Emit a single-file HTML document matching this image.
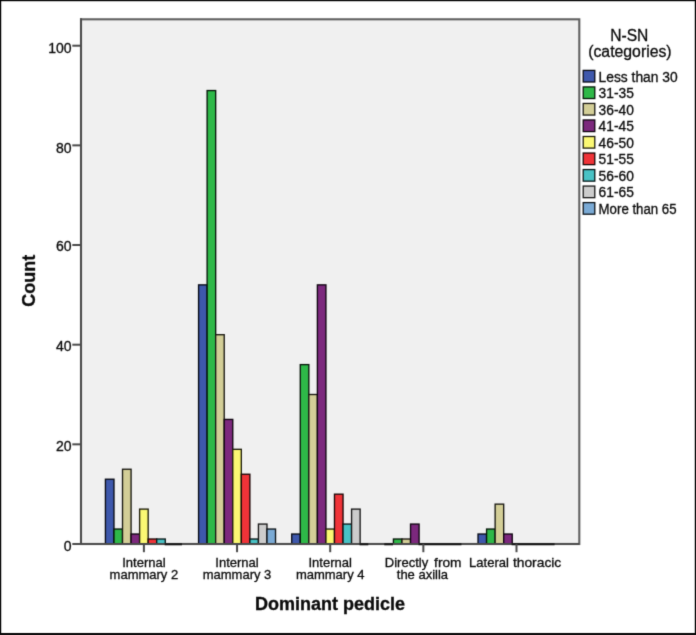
<!DOCTYPE html>
<html><head><meta charset="utf-8"><style>
html,body{margin:0;padding:0;background:#fff;}
body{width:696px;height:635px;overflow:hidden;}
svg{display:block;font-family:"Liberation Sans", sans-serif;fill:#0a0a0a;}
text{stroke:#0a0a0a;stroke-width:0.3px;}
</style></head><body>
<svg width="696" height="635" viewBox="0 0 696 635">
<defs><filter id="bl" x="0" y="0" width="1" height="1" color-interpolation-filters="sRGB"><feConvolveMatrix order="3" kernelMatrix="1 6 1 6 36 6 1 6 1" divisor="64" edgeMode="duplicate" preserveAlpha="true"/></filter></defs>
<g filter="url(#bl)">
<rect x="0" y="0" width="696" height="635" fill="#fff"/>
<rect x="81" y="19.3" width="498.3" height="524.7" fill="#F0F0F0" stroke="#606060" stroke-width="2.1"/>
<rect x="105.42" y="479.22" width="8.55" height="64.78" fill="#3E58AC" stroke="#070a14" stroke-width="1.35"/>
<rect x="113.97" y="529.05" width="8.55" height="14.95" fill="#2EB848" stroke="#051608" stroke-width="1.35"/>
<rect x="122.53" y="469.25" width="8.55" height="74.74" fill="#D3CE97" stroke="#191812" stroke-width="1.35"/>
<rect x="131.07" y="534.03" width="8.55" height="9.97" fill="#7C287D" stroke="#0e040f" stroke-width="1.35"/>
<rect x="139.62" y="509.12" width="8.55" height="34.88" fill="#FBF873" stroke="#1e1d0d" stroke-width="1.35"/>
<rect x="148.18" y="539.02" width="8.55" height="4.98" fill="#EF3338" stroke="#1c0606" stroke-width="1.35"/>
<rect x="156.72" y="539.02" width="8.55" height="4.98" fill="#48C2C5" stroke="#081717" stroke-width="1.35"/>
<rect x="198.57" y="284.88" width="8.55" height="259.12" fill="#3E58AC" stroke="#070a14" stroke-width="1.35"/>
<rect x="207.12" y="90.55" width="8.55" height="453.45" fill="#2EB848" stroke="#051608" stroke-width="1.35"/>
<rect x="215.67" y="334.71" width="8.55" height="209.29" fill="#D3CE97" stroke="#191812" stroke-width="1.35"/>
<rect x="224.22" y="419.43" width="8.55" height="124.57" fill="#7C287D" stroke="#0e040f" stroke-width="1.35"/>
<rect x="232.77" y="449.32" width="8.55" height="94.68" fill="#FBF873" stroke="#1e1d0d" stroke-width="1.35"/>
<rect x="241.32" y="474.24" width="8.55" height="69.76" fill="#EF3338" stroke="#1c0606" stroke-width="1.35"/>
<rect x="249.88" y="539.02" width="8.55" height="4.98" fill="#48C2C5" stroke="#081717" stroke-width="1.35"/>
<rect x="258.43" y="524.07" width="8.55" height="19.93" fill="#CCCCCC" stroke="#181818" stroke-width="1.35"/>
<rect x="266.98" y="529.05" width="8.55" height="14.95" fill="#7AAAD5" stroke="#0e1419" stroke-width="1.35"/>
<rect x="291.73" y="534.03" width="8.55" height="9.97" fill="#3E58AC" stroke="#070a14" stroke-width="1.35"/>
<rect x="300.28" y="364.61" width="8.55" height="179.39" fill="#2EB848" stroke="#051608" stroke-width="1.35"/>
<rect x="308.83" y="394.51" width="8.55" height="149.49" fill="#D3CE97" stroke="#191812" stroke-width="1.35"/>
<rect x="317.38" y="284.88" width="8.55" height="259.12" fill="#7C287D" stroke="#0e040f" stroke-width="1.35"/>
<rect x="325.93" y="529.05" width="8.55" height="14.95" fill="#FBF873" stroke="#1e1d0d" stroke-width="1.35"/>
<rect x="334.48" y="494.17" width="8.55" height="49.83" fill="#EF3338" stroke="#1c0606" stroke-width="1.35"/>
<rect x="343.03" y="524.07" width="8.55" height="19.93" fill="#48C2C5" stroke="#081717" stroke-width="1.35"/>
<rect x="351.58" y="509.12" width="8.55" height="34.88" fill="#CCCCCC" stroke="#181818" stroke-width="1.35"/>
<rect x="393.43" y="539.02" width="8.55" height="4.98" fill="#2EB848" stroke="#051608" stroke-width="1.35"/>
<rect x="401.98" y="539.02" width="8.55" height="4.98" fill="#D3CE97" stroke="#191812" stroke-width="1.35"/>
<rect x="410.53" y="524.07" width="8.55" height="19.93" fill="#7C287D" stroke="#0e040f" stroke-width="1.35"/>
<rect x="478.03" y="534.03" width="8.55" height="9.97" fill="#3E58AC" stroke="#070a14" stroke-width="1.35"/>
<rect x="486.58" y="529.05" width="8.55" height="14.95" fill="#2EB848" stroke="#051608" stroke-width="1.35"/>
<rect x="495.13" y="504.14" width="8.55" height="39.86" fill="#D3CE97" stroke="#191812" stroke-width="1.35"/>
<rect x="503.68" y="534.03" width="8.55" height="9.97" fill="#7C287D" stroke="#0e040f" stroke-width="1.35"/>
<line x1="81" y1="18.3" x2="81" y2="545" stroke="#4a4a4a" stroke-width="2"/>
<line x1="80" y1="544" x2="579.3" y2="544" stroke="#4a4a4a" stroke-width="2"/>
<line x1="164.68" y1="544.3" x2="181.97" y2="544.3" stroke="#111" stroke-width="2"/>
<line x1="359.52" y1="544.3" x2="368.28" y2="544.3" stroke="#111" stroke-width="2"/>
<line x1="384.28" y1="544.3" x2="393.03" y2="544.3" stroke="#111" stroke-width="2"/>
<line x1="418.48" y1="544.3" x2="461.43" y2="544.3" stroke="#111" stroke-width="2"/>
<line x1="511.62" y1="544.3" x2="554.58" y2="544.3" stroke="#111" stroke-width="2"/>
<line x1="72.3" y1="544" x2="81" y2="544" stroke="#4a4a4a" stroke-width="2"/>
<text x="71.6" y="550.95" text-anchor="end" font-size="14">0</text>
<line x1="72.3" y1="444.34" x2="81" y2="444.34" stroke="#4a4a4a" stroke-width="2"/>
<text x="71.6" y="451.2" text-anchor="end" font-size="14">20</text>
<line x1="72.3" y1="344.68" x2="81" y2="344.68" stroke="#4a4a4a" stroke-width="2"/>
<text x="71.6" y="351.3" text-anchor="end" font-size="14">40</text>
<line x1="72.3" y1="245.02" x2="81" y2="245.02" stroke="#4a4a4a" stroke-width="2"/>
<text x="71.6" y="251.3" text-anchor="end" font-size="14">60</text>
<line x1="72.3" y1="145.36" x2="81" y2="145.36" stroke="#4a4a4a" stroke-width="2"/>
<text x="71.6" y="152.65" text-anchor="end" font-size="14">80</text>
<line x1="72.3" y1="45.7" x2="81" y2="45.7" stroke="#4a4a4a" stroke-width="2"/>
<text x="71.6" y="52.7" text-anchor="end" font-size="14">100</text>
<line x1="143.9" y1="544" x2="143.9" y2="552.2" stroke="#4a4a4a" stroke-width="2"/>
<line x1="237.05" y1="544" x2="237.05" y2="552.2" stroke="#4a4a4a" stroke-width="2"/>
<line x1="330.2" y1="544" x2="330.2" y2="552.2" stroke="#4a4a4a" stroke-width="2"/>
<line x1="423.35" y1="544" x2="423.35" y2="552.2" stroke="#4a4a4a" stroke-width="2"/>
<line x1="516.5" y1="544" x2="516.5" y2="552.2" stroke="#4a4a4a" stroke-width="2"/>
<g font-size="13">
<text x="143.9" y="566.7" text-anchor="middle">Internal</text>
<text x="143.9" y="578.5" text-anchor="middle">mammary 2</text>
<text x="237.05" y="566.7" text-anchor="middle">Internal</text>
<text x="237.05" y="578.5" text-anchor="middle">mammary 3</text>
<text x="330.2" y="566.7" text-anchor="middle">Internal</text>
<text x="330.2" y="578.5" text-anchor="middle">mammary 4</text>
<text y="566.7"><tspan x="384.8">Directly</tspan><tspan x="434.1" textLength="27.4" lengthAdjust="spacingAndGlyphs">from</tspan></text>
<text x="422.45" y="578.5" text-anchor="middle">the axilla</text>
<text y="566.7"><tspan x="469.1">Lateral</tspan><tspan x="512.9" textLength="48.4" lengthAdjust="spacingAndGlyphs">thoracic</tspan></text>
</g>
<text x="330" y="609.6" text-anchor="middle" font-size="18" font-weight="bold">Dominant pedicle</text>
<text transform="translate(35,280.8) rotate(-90)" text-anchor="middle" font-size="18" font-weight="bold">Count</text>
<text x="629.3" y="41" text-anchor="middle" font-size="15.6">N-SN</text>
<text x="629.9" y="57.3" text-anchor="middle" font-size="15.8">(categories)</text>
<rect x="583.2" y="70.4" width="11.6" height="11.6" fill="#3E58AC" stroke="#070a14" stroke-width="1.3"/>
<text x="598.6" y="81.8" font-size="13.8">Less than 30</text>
<rect x="583.2" y="86.93" width="11.6" height="11.6" fill="#2EB848" stroke="#051608" stroke-width="1.3"/>
<text x="598.6" y="98.33" font-size="13.8">31-35</text>
<rect x="583.2" y="103.45" width="11.6" height="11.6" fill="#D3CE97" stroke="#191812" stroke-width="1.3"/>
<text x="598.6" y="114.85" font-size="13.8">36-40</text>
<rect x="583.2" y="119.97" width="11.6" height="11.6" fill="#7C287D" stroke="#0e040f" stroke-width="1.3"/>
<text x="598.6" y="131.38" font-size="13.8">41-45</text>
<rect x="583.2" y="136.5" width="11.6" height="11.6" fill="#FBF873" stroke="#1e1d0d" stroke-width="1.3"/>
<text x="598.6" y="147.9" font-size="13.8">46-50</text>
<rect x="583.2" y="153.03" width="11.6" height="11.6" fill="#EF3338" stroke="#1c0606" stroke-width="1.3"/>
<text x="598.6" y="164.43" font-size="13.8">51-55</text>
<rect x="583.2" y="169.55" width="11.6" height="11.6" fill="#48C2C5" stroke="#081717" stroke-width="1.3"/>
<text x="598.6" y="180.95" font-size="13.8">56-60</text>
<rect x="583.2" y="186.07" width="11.6" height="11.6" fill="#CCCCCC" stroke="#181818" stroke-width="1.3"/>
<text x="598.6" y="197.47" font-size="13.8">61-65</text>
<rect x="583.2" y="202.6" width="11.6" height="11.6" fill="#7AAAD5" stroke="#0e1419" stroke-width="1.3"/>
<text x="598.6" y="214" font-size="13.8" textLength="78" lengthAdjust="spacingAndGlyphs">More than 65</text>
<rect x="0.5" y="0.5" width="695" height="633.5" fill="none" stroke="#000" stroke-width="1.4"/>
<line x1="0" y1="633.8" x2="696" y2="633.8" stroke="#000" stroke-width="1.8"/>
</g></svg>
</body></html>
